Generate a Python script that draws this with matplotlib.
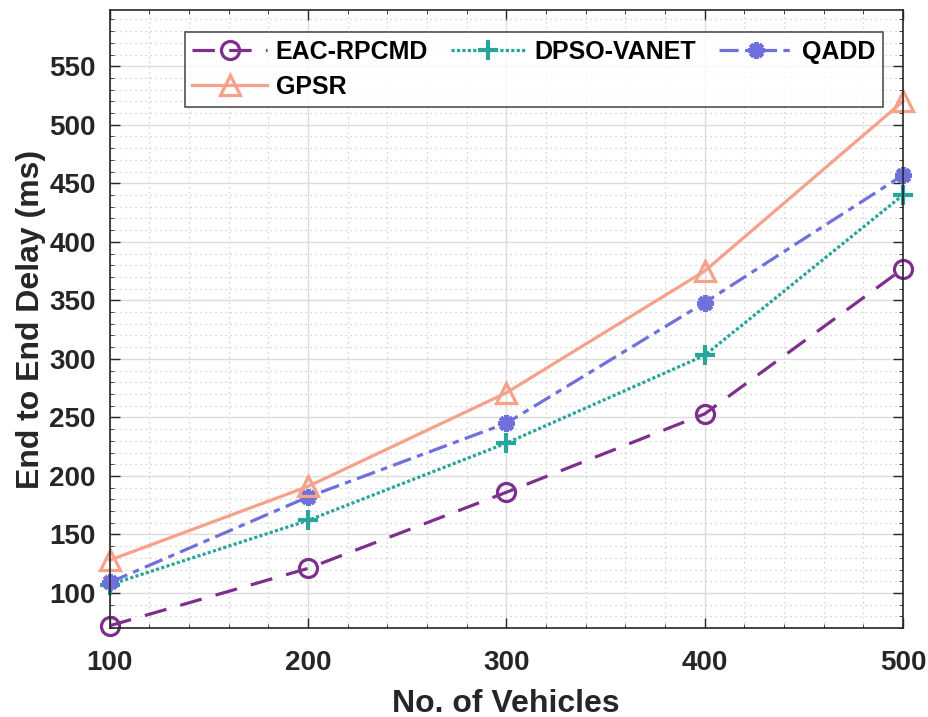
import matplotlib.pyplot as plt
from matplotlib.ticker import MultipleLocator

# Data
vehicles = [100, 200, 300, 400, 500]
eac_rpcmd = [72, 121, 186, 253, 377]
dpso_vanet = [107, 162, 228, 303, 440]
qadd = [109, 182, 245, 348, 457]
gpsr = [128, 191, 271, 375, 520]

plt.rcParams['font.family'] = ['Liberation Sans', 'DejaVu Sans']
plt.rcParams['font.weight'] = 'bold'

fig = plt.figure(figsize=(9.29, 7.17), dpi=100)
ax = fig.add_axes([0.118, 0.124, 0.854, 0.862])

ax.grid(which='major', color='#dcdcdc', linewidth=1.0, linestyle='-')
ax.grid(which='minor', color='#c8c8c8', linewidth=0.9, linestyle=(0, (1, 3)))
ax.set_axisbelow(True)

lw = 2.3
l1, = ax.plot(vehicles, eac_rpcmd, color='#7e2f8e', linestyle=(0, (7, 4.5)),
              linewidth=lw, marker='o', markersize=13, markerfacecolor='none',
              markeredgewidth=lw, label='EAC-RPCMD', clip_on=False)
l2, = ax.plot(vehicles, dpso_vanet, color='#2aa59c', linestyle=(0, (1, 0.7)),
              linewidth=lw, marker='+', markersize=14, markeredgewidth=3,
              label='DPSO-VANET', clip_on=False)
l3, = ax.plot(vehicles, qadd, color='#7070dd', linestyle=(0, (6, 2, 2, 2)),
              linewidth=lw, marker=(8, 2, 0), markersize=12, markeredgewidth=3.5,
              label='QADD', clip_on=False)
l4, = ax.plot(vehicles, gpsr, color='#f6a18a', linestyle='-',
              linewidth=lw, marker='^', markersize=15, markerfacecolor='none',
              markeredgewidth=lw, label='GPSR', clip_on=False)

ax.set_xlim(100, 500)
ax.set_ylim(70, 598)
ax.set_xticks(vehicles)
ax.set_yticks(range(100, 551, 50))
ax.xaxis.set_minor_locator(MultipleLocator(20))
ax.yaxis.set_minor_locator(MultipleLocator(10))
ax.tick_params(which='both', direction='in', top=True, right=True,
               labelsize=20, colors='#262626')
ax.tick_params(axis='x', pad=16)
ax.tick_params(axis='y', pad=10)
ax.tick_params(which='major', length=7, width=1)
ax.tick_params(which='minor', length=3, width=0.6)
for s in ax.spines.values():
    s.set_color('#262626')
    s.set_linewidth(1.2)

ax.set_xlabel('No. of Vehicles', fontsize=23, fontweight='bold',
              color='#262626', labelpad=9)
ax.set_ylabel('End to End Delay (ms)', fontsize=23, fontweight='bold',
              color='#262626', labelpad=2)

leg = ax.legend([l1, l4, l2, l3], ['EAC-RPCMD', 'GPSR', 'DPSO-VANET', 'QADD'],
                ncol=3, loc='upper right', bbox_to_anchor=(0.975, 0.964),
                fontsize=18, frameon=True, fancybox=False, edgecolor='#262626',
                handlelength=3.0, columnspacing=0.9, handletextpad=0.35,
                borderpad=0.3, labelspacing=0.45, borderaxespad=0)
leg.get_frame().set_linewidth(1.2)

fig.savefig('out.png', dpi=100)
